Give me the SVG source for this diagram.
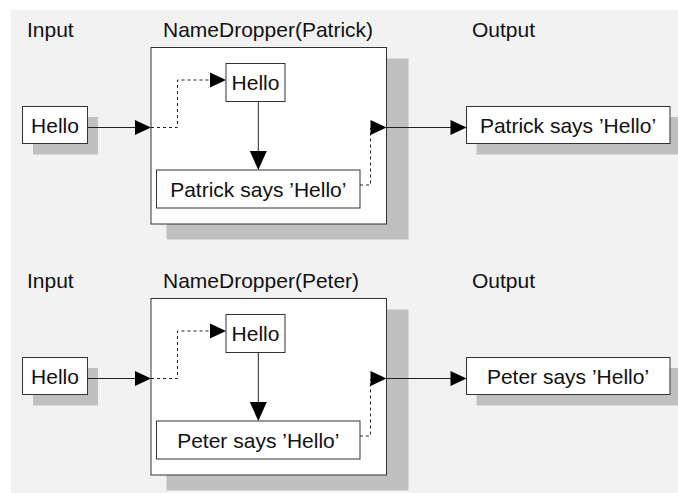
<svg xmlns="http://www.w3.org/2000/svg" width="678" height="493" viewBox="0 0 678 493">
  <style>
    .bg { fill: #f2f2f2; }
    .shadow { fill: #c0c0c0; }
    .box { fill: #ffffff; stroke: #333333; stroke-width: 1; }
    .label { font-family: "Liberation Sans", Arial, Helvetica, sans-serif; font-size: 21px; fill: #111111; }
    .mid { text-anchor: middle; }
    .line { fill: none; stroke: #222222; stroke-width: 1; }
    .dash { fill: none; stroke: #222222; stroke-width: 1; stroke-dasharray: 3 3; }
    .head { fill: #000000; }
  </style>
  <defs>
    <!-- right-pointing arrowhead, tip at origin -->
    <polygon id="headR" class="head" points="0,0 -16,-7.5 -16,7.5"/>
    <!-- downward arrowhead, tip at origin -->
    <polygon id="headD" class="head" points="0,0 -8.5,-19 8.5,-19"/>
  </defs>

  <rect class="bg" x="11" y="10" width="667" height="483"/>

  <!-- first pipeline: NameDropper(Patrick) -->
  <g id="pipeline-patrick">
    <text class="label" x="27" y="37">Input</text>
    <text class="label" x="163" y="37">NameDropper(Patrick)</text>
    <text class="label" x="472" y="37">Output</text>

    <g id="patrick-input">
      <rect class="shadow" x="33" y="117" width="65" height="37.5"/>
      <rect class="box" x="22.5" y="106.5" width="65" height="37"/>
      <text class="label mid" x="55" y="132.5">Hello</text>
    </g>

    <g id="patrick-dropper">
      <rect class="shadow" x="166.5" y="58.5" width="242" height="181"/>
      <rect class="box" x="151" y="47.5" width="235.5" height="176.5"/>
    </g>

    <g id="patrick-inner-hello">
      <rect class="box" x="226" y="63.5" width="59" height="38"/>
      <text class="label mid" x="255.5" y="90">Hello</text>
    </g>

    <g id="patrick-says">
      <rect class="box" x="156.5" y="170" width="203.5" height="38"/>
      <text class="label mid" x="258.3" y="196.5">Patrick says ’Hello’</text>
    </g>

    <g id="patrick-output">
      <rect class="shadow" x="476.5" y="117" width="201.5" height="37.5"/>
      <rect class="box" x="466.5" y="106.5" width="203.5" height="37"/>
      <text class="label mid" x="568" y="132.5">Patrick says ’Hello’</text>
    </g>

    <g id="patrick-connectors">
      <path class="line" d="M87.5,127.5 H136"/>
      <use href="#headR" x="151" y="127.5"/>
      <path class="dash" d="M151,127.5 H177.5 V80 H211"/>
      <use href="#headR" x="226" y="80"/>
      <path class="line" d="M258.3,101.5 V152"/>
      <use href="#headD" x="258.3" y="170"/>
      <path class="dash" d="M360,185 H370.5 V128"/>
      <use href="#headR" x="386.5" y="127.5"/>
      <path class="line" d="M386.5,127.5 H452"/>
      <use href="#headR" x="466.5" y="127.5"/>
    </g>
  </g>

  <!-- second pipeline: NameDropper(Peter) -->
  <g id="pipeline-peter" transform="translate(0,251)">
    <text class="label" x="27" y="37">Input</text>
    <text class="label" x="163" y="37">NameDropper(Peter)</text>
    <text class="label" x="472" y="37">Output</text>

    <g id="peter-input">
      <rect class="shadow" x="33" y="117" width="65" height="37.5"/>
      <rect class="box" x="22.5" y="106.5" width="65" height="37"/>
      <text class="label mid" x="55" y="132.5">Hello</text>
    </g>

    <g id="peter-dropper">
      <rect class="shadow" x="166.5" y="58.5" width="242" height="181"/>
      <rect class="box" x="151" y="47.5" width="235.5" height="176.5"/>
    </g>

    <g id="peter-inner-hello">
      <rect class="box" x="226" y="63.5" width="59" height="38"/>
      <text class="label mid" x="255.5" y="90">Hello</text>
    </g>

    <g id="peter-says">
      <rect class="box" x="156.5" y="170" width="203.5" height="38"/>
      <text class="label mid" x="258.3" y="196.5">Peter says ’Hello’</text>
    </g>

    <g id="peter-output">
      <rect class="shadow" x="476.5" y="117" width="201.5" height="37.5"/>
      <rect class="box" x="466.5" y="106.5" width="203.5" height="37"/>
      <text class="label mid" x="568" y="132.5">Peter says ’Hello’</text>
    </g>

    <g id="peter-connectors">
      <path class="line" d="M87.5,127.5 H136"/>
      <use href="#headR" x="151" y="127.5"/>
      <path class="dash" d="M151,127.5 H177.5 V80 H211"/>
      <use href="#headR" x="226" y="80"/>
      <path class="line" d="M258.3,101.5 V152"/>
      <use href="#headD" x="258.3" y="170"/>
      <path class="dash" d="M360,185 H370.5 V128"/>
      <use href="#headR" x="386.5" y="127.5"/>
      <path class="line" d="M386.5,127.5 H452"/>
      <use href="#headR" x="466.5" y="127.5"/>
    </g>
  </g>
</svg>
